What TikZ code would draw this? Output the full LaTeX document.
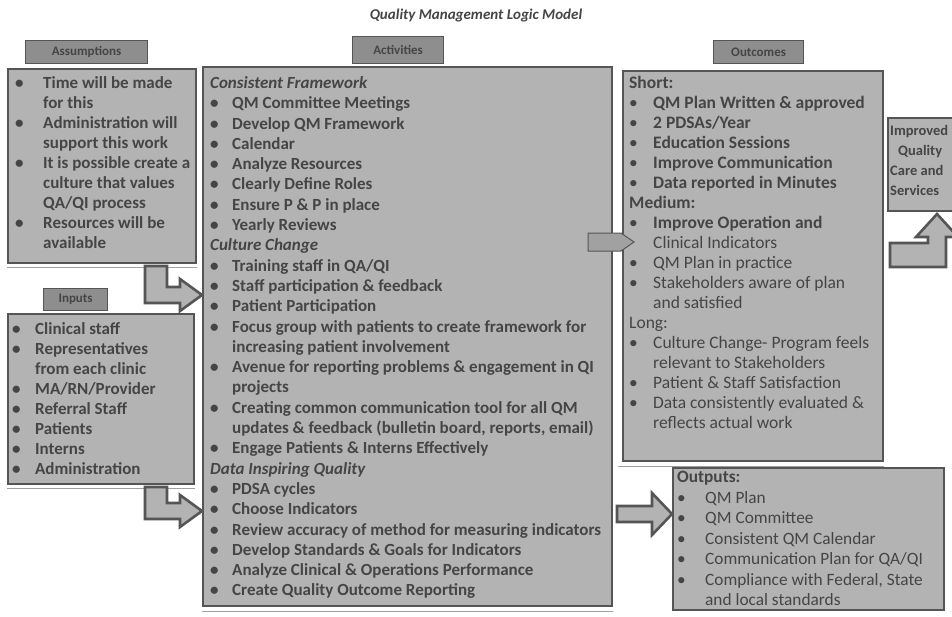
\documentclass[tikz,border=0pt]{standalone}
\usepackage{fontspec}
\setmainfont{Carlito}
\usepackage{array}
\definecolor{boxfill}{HTML}{B3B3B3}
\definecolor{boxline}{HTML}{555555}
\definecolor{ink}{HTML}{454545}
\definecolor{hdrfill}{HTML}{8E8E8E}
\definecolor{rule}{HTML}{A0A0A0}
\newcommand{\bt}{\textbullet}
\begin{document}
\begin{tikzpicture}[x=1pt,y=-1pt,
  panel/.style={draw=boxline, line width=1.6pt, fill=boxfill, anchor=north west, inner sep=0pt},
  hdr/.style={draw=boxline, line width=1.2pt, fill=hdrfill, text=ink, anchor=north west, inner sep=0pt,
              font=\fontsize{13}{14}\selectfont\bfseries},
  txt/.style={anchor=north west, inner sep=0pt, text=ink},
  barrow/.style={draw=boxline, line width=2.6pt, fill=boxfill, line join=miter},
  sarrow/.style={draw=boxline, line width=1pt, fill=boxfill!90!black, line join=miter},
  shadow/.style={draw=rule, line width=1pt},
]
\useasboundingbox (0,0) rectangle (952,616);
\fill[white] (0,0) rectangle (952,616);
\begin{scope}
\clip (0,0) rectangle (952,616);

% title
\node[text=ink, font=\fontsize{15}{16}\selectfont\bfseries\itshape] (title) at (476,15) {Quality Management Logic Model};

% headers
\node[hdr, minimum width=122pt, minimum height=23pt] (hAssum) at (25,40) {Assumptions};
\node[hdr, minimum width=91pt, minimum height=27pt] (hAct) at (352,36) {Activities};
\node[hdr, minimum width=90pt, minimum height=23pt] (hOut) at (713,40) {Outcomes};
\node[hdr, minimum width=64pt, minimum height=22pt] (hIn) at (43,288) {Inputs};

% panels
\node[panel, minimum width=188pt, minimum height=194pt] (assum) at (7,68) {};
\node[panel, minimum width=186pt, minimum height=170pt] (inputs) at (7,313) {};
\node[panel, minimum width=409pt, minimum height=539pt] (act) at (202,66) {};
\node[panel, minimum width=260pt, minimum height=390pt] (outc) at (622,70) {};
\node[panel, minimum width=271pt, minimum height=142pt] (outp) at (672,467) {};
\node[panel, minimum width=80pt, minimum height=93pt] (impact) at (887,117) {};

% thin rules under panels
\draw[shadow] (assum.south west) ++(0,4) -- ([yshift=-4pt]assum.south east);
\draw[shadow] (inputs.south west) ++(0,4) -- ([yshift=-4pt]inputs.south east);
\draw[shadow] (act.south west) ++(0,5) -- ([yshift=-5pt]act.south east);
\draw[shadow] (outc.south west) ++(-4,5) -- ([yshift=-5pt]outc.south east);

% assumptions text
\node[txt] (assumT) at (15,74) {\fontsize{17}{20}\selectfont\bfseries
\begin{tabular}{@{}p{28pt}@{}l@{}}
\bt & Time will be made\\
    & for this\\
\bt & Administration will\\
    & support this work\\
\bt & It is possible create a\\
    & culture that values\\
    & QA/QI process\\
\bt & Resources will be\\
    & available\\
\end{tabular}};

% inputs text
\node[txt] (inputsT) at (12,320) {\fontsize{17}{20}\selectfont\bfseries
\begin{tabular}{@{}p{23pt}@{}l@{}}
\bt & Clinical staff\\
\bt & Representatives\\
    & from each clinic\\
\bt & MA/RN/Provider\\
\bt & Referral Staff\\
\bt & Patients\\
\bt & Interns\\
\bt & Administration\\
\end{tabular}};

% activities text
\node[txt] (actT) at (210,74) {\fontsize{17}{20.3}\selectfont\bfseries
\begin{tabular}{@{}p{22pt}@{}l@{}}
\multicolumn{2}{@{}l@{}}{\itshape Consistent Framework}\\
\bt & QM Committee Meetings\\
\bt & Develop QM Framework\\
\bt & Calendar\\
\bt & Analyze Resources\\
\bt & Clearly Define Roles\\
\bt & Ensure P \& P in place\\
\bt & Yearly Reviews\\
\multicolumn{2}{@{}l@{}}{\itshape Culture Change}\\
\bt & Training staff in QA/QI\\
\bt & Staff participation \& feedback\\
\bt & Patient Participation\\
\bt & Focus group with patients to create framework for\\
    & increasing patient involvement\\
\bt & Avenue for reporting problems \& engagement in QI\\
    & projects\\
\bt & Creating common communication tool for all QM\\
    & updates \& feedback (bulletin board, reports, email)\\
\bt & Engage Patients \& Interns Effectively\\
\multicolumn{2}{@{}l@{}}{\itshape Data Inspiring Quality}\\
\bt & PDSA cycles\\
\bt & Choose Indicators\\
\bt & Review accuracy of method for measuring indicators\\
\bt & Develop Standards \& Goals for Indicators\\
\bt & Analyze Clinical \& Operations Performance\\
\bt & Create Quality Outcome Reporting\\
\end{tabular}};

% outcomes text
\node[txt] (outcT) at (629,74) {\fontsize{17.5}{20}\selectfont
\begin{tabular}{@{}p{24pt}@{}l@{}}
\multicolumn{2}{@{}l@{}}{\bfseries Short:}\\
\bt & \bfseries QM Plan Written \& approved\\
\bt & \bfseries 2 PDSAs/Year\\
\bt & \bfseries Education Sessions\\
\bt & \bfseries Improve Communication\\
\bt & \bfseries Data reported in Minutes\\
\multicolumn{2}{@{}l@{}}{\bfseries Medium:}\\
\bt & \bfseries Improve Operation and\\
    & Clinical Indicators\\
\bt & QM Plan in practice\\
\bt & Stakeholders aware of plan\\
    & and satisfied\\
\multicolumn{2}{@{}l@{}}{Long:}\\
\bt & Culture Change- Program feels\\
    & relevant to Stakeholders\\
\bt & Patient \& Staff Satisfaction\\
\bt & Data consistently evaluated \&\\
    & reflects actual work\\
\end{tabular}};

% outputs text
\node[txt] (outpT) at (677,468) {\fontsize{17.3}{20.5}\selectfont
\begin{tabular}{@{}p{28pt}@{}l@{}}
\multicolumn{2}{@{}l@{}}{\bfseries Outputs:}\\
\bt & QM Plan\\
\bt & QM Committee\\
\bt & Consistent QM Calendar\\
\bt & Communication Plan for QA/QI\\
\bt & Compliance with Federal, State\\
    & and local standards\\
\end{tabular}};

% impact text
\node[txt] (impactT) at (890,121) {\fontsize{14.5}{20}\selectfont\bfseries
\begin{tabular}{@{}l@{}}
Improved\\
\hspace{8pt}Quality\\
Care and\\
Services\\
\end{tabular}};

% elbow arrows from assumptions and inputs into activities
\draw[barrow] (145,266) -- (167,266) -- (167,287) -- (180,287) -- (180,279)
   -- (act.west |- 0,295) -- (180,311) -- (180,303) -- (145,303) -- cycle;
\draw[barrow] (145,487) -- (167,487) -- (167,503) -- (180,503) -- (180,495)
   -- (act.west |- 0,511) -- (180,527) -- (180,519) -- (145,519) -- cycle;

% arrow from activities to outcomes
\coordinate (tipO) at (634,242);
\draw[sarrow] (588,233) -- (621,233) -- (tipO) -- (621,251) -- (588,251) -- cycle;

% arrow into outputs
\draw[barrow] (617,506) -- (652,506) -- (652,493) -- (outp.west |- 0,514) -- (652,535) -- (652,522) -- (617,522) -- cycle;

% up elbow arrow to impact
\draw[barrow] (890,243) -- (928,243) -- (928,237) -- (916,237) -- (937,214) -- (958,237)
   -- (946,237) -- (946,267) -- (890,267) -- cycle;
\end{scope}
\end{tikzpicture}
\end{document}
